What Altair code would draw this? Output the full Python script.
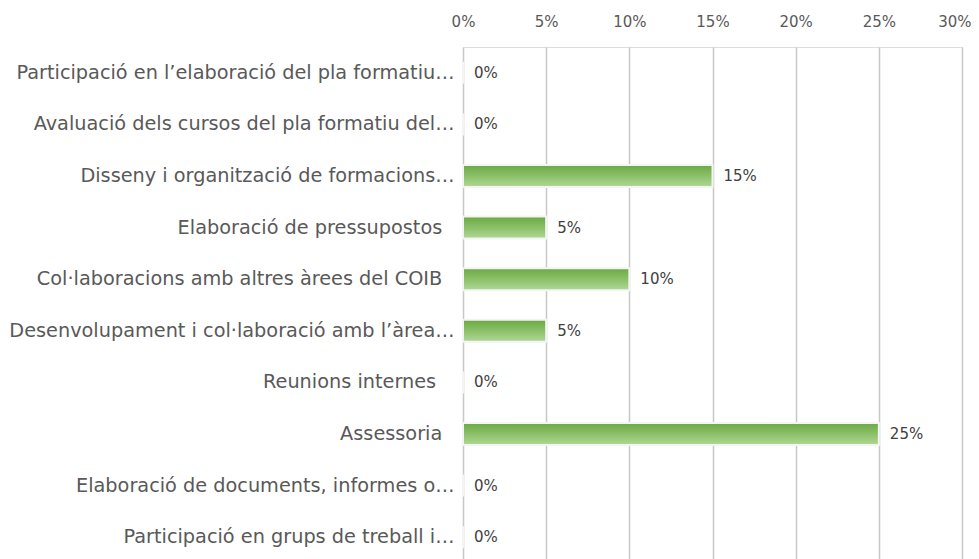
import altair as alt
import pandas as pd

PAD = "\u00a0"
END = "\u200b"
categories = [
    "Participació en l’elaboració del pla formatiu…",
    "Avaluació dels cursos del pla formatiu del…",
    "Disseny i organització de formacions…",
    "Elaboració de pressupostos" + PAD * 2 + END,
    "Col·laboracions amb altres àrees del COIB" + PAD * 2 + END,
    "Desenvolupament  i col·laboració amb l’àrea…",
    "Reunions internes" + PAD * 3 + END,
    "Assessoria" + PAD * 2 + END,
    "Elaboració de documents, informes o…",
    "Participació en grups de treball i…",
]
values_pct = [0, 0, 15, 5, 10, 5, 0, 25, 0, 0]
tick_values = [0, 0.05, 0.10, 0.15, 0.20, 0.25, 0.30]

df = pd.DataFrame({"cat": categories, "val": [v / 100 for v in values_pct]})

FONT = "DejaVu Sans"

y = alt.Y("cat:N", sort=categories, title=None,
          axis=alt.Axis(labelFontSize=19.3, labelColor="#595959", labelFont=FONT,
                        labelLimit=470, labelPadding=9, ticks=False, domain=False))
x = alt.X("val:Q", title=None,
          scale=alt.Scale(domain=[0, 0.30], nice=False),
          axis=alt.Axis(orient="top", values=tick_values, format=".0%",
                        labelFontSize=15, labelColor="#595959", labelFont=FONT,
                        labelAlign=alt.condition("datum.value >= 0.3", alt.value("right"), alt.value("center")),
                        labelOffset=alt.condition("datum.value >= 0.3", alt.value(9), alt.value(0)),
                        ticks=False, domain=False, labelPadding=18,
                        grid=True, gridColor="#c8c8c8", gridWidth=1.5))

grad = alt.Gradient(
    gradient="linear", x1=0, y1=0, x2=0, y2=1,
    stops=[alt.GradientStop(color="#6aa944", offset=0),
           alt.GradientStop(color="#8cc068", offset=0.5),
           alt.GradientStop(color="#b0d897", offset=1)],
)

bars = alt.Chart(df).mark_bar(color=grad, size=22, stroke="#f4f4f4", strokeWidth=2).encode(
    x=x, y=y
)
labels = alt.Chart(df).mark_text(align="left", baseline="middle", dx=11, fontSize=15,
                                 font=FONT, color="#404040").encode(
    x=alt.X("val:Q"), y=alt.Y("cat:N", sort=categories),
    text=alt.Text("val:Q", format=".0%")
)

chart = (bars + labels).properties(
    width=499, height=516,
    padding={"left": 455, "top": 39, "right": 9, "bottom": 0},
    autosize="none",
).configure_view(stroke=None).configure(background="white")

chart.save("out.html", embed_options={"renderer": "svg", "actions": False})
